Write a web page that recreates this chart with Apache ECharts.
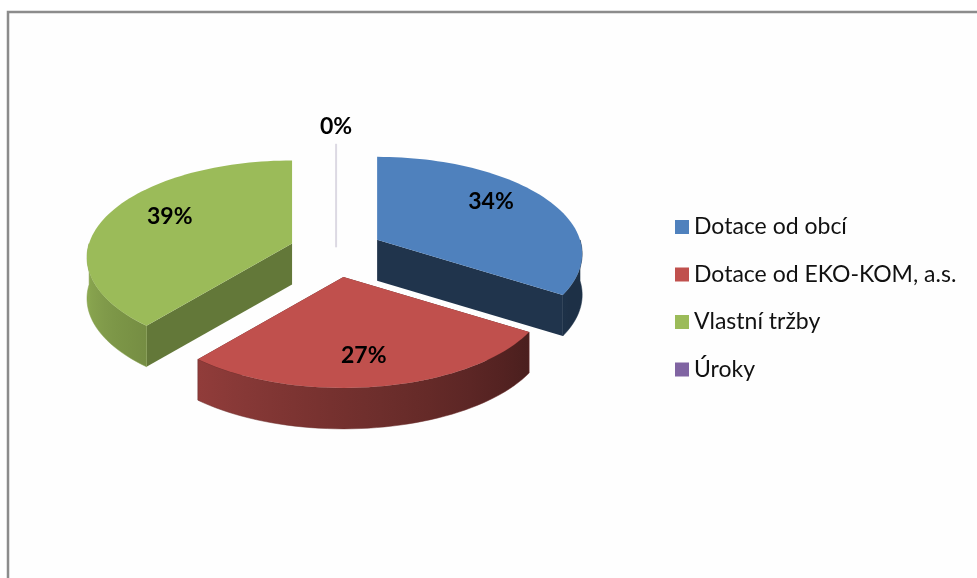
<!DOCTYPE html>
<html>
<head>
<meta charset="utf-8">
<script src="https://cdn.jsdelivr.net/npm/echarts@6/dist/echarts.min.js"></script>
<style>
  html, body { margin: 0; padding: 0; background: #fff; }
  #chart { width: 977px; height: 578px; }
</style>
</head>
<body>
<div id="chart"></div>
<script>
var categories = ['Dotace od obcí', 'Dotace od EKO-KOM, a.s.', 'Vlastní tržby', 'Úroky'];
var values = [34, 27, 39, 0];
var colors = ['#4f81bd', '#c0504d', '#9bbb59', '#8064a2'];
var cutShade = [0.40, 0.45, 0.64, 0.55];

(function() {
  var chart = echarts.init(document.getElementById('chart'), null, { renderer: 'canvas' });

  // --- 3D pie geometry (simple perspective camera) ---
  var SIN = 0.468, COS = 0.884;   // camera tilt
  var DIST = 6.13, FOC = 1244;    // camera distance / focal length
  var EXPLODE_X = 46.8, EXPLODE_Y = 25.2;  // slice pull-out on screen, px
  var THICK = 41;                 // wall height, px
  var LABEL_RX = 130, LABEL_RY = 80, OUT_RY = 100;
  var labelFont = 'bold 23px Lato, "Open Sans", sans-serif';

  var total = values.reduce(function(a, b) { return a + b; }, 0);
  var starts = [];
  var acc = 0;
  values.forEach(function(v) { starts.push(acc / total * 360); acc += v; });

  function rad(d) { return d * Math.PI / 180; }

  function shade(hex, f) {
    var n = parseInt(hex.slice(1), 16);
    var r = Math.min(255, Math.round(((n >> 16) & 255) * f));
    var g = Math.min(255, Math.round(((n >> 8) & 255) * f));
    var b = Math.min(255, Math.round((n & 255) * f));
    return 'rgb(' + r + ',' + g + ',' + b + ')';
  }

  // outer wall light: lighter on the left, darker on the right
  function wallLight(deg) {
    return Math.max(0.37, Math.min(0.9, 0.385 + (deg - 122.4) * 0.0038));
  }

  function drawSlice(i, value, api) {
    var cx = api.getWidth() * 0.344, cy = api.getHeight() * 0.436;
    var a0 = starts[i], a1 = a0 + value / total * 360;
    var mid = (a0 + a1) / 2;
    var sx = EXPLODE_X * Math.sin(rad(mid)), sy = -EXPLODE_Y * Math.cos(rad(mid));

    function proj(r, deg) {
      var X = r * Math.sin(rad(deg)), Z = r * Math.cos(rad(deg));
      var depth = Z * COS + DIST;
      return [cx + sx + FOC * X / depth, cy + sy - FOC * Z * SIN / depth];
    }
    function down(p) { return [p[0], p[1] + THICK]; }

    var children = [];
    var c = proj(0, 0);
    var pct = Math.round(value / total * 100);

    if (a1 - a0 < 0.01) {
      var rimTop = proj(1, a0);
      children.push({
        type: 'polyline',
        shape: { points: [rimTop, c, [c[0], c[1] + THICK / 2]] },
        style: { stroke: '#dcd9e3', lineWidth: 2, fill: null }
      });
    } else {
      // radial cut faces
      [a0, a1].forEach(function(a) {
        var p = proj(1, a);
        children.push({
          type: 'polygon',
          shape: { points: [c, p, down(p), down(c)] },
          style: { fill: shade(colors[i], cutShade[i]) }
        });
      });

      // outer wall on the front half
      var w0 = Math.max(a0, 90), w1 = Math.min(a1, 270);
      if (w1 > w0) {
        var topArc = [], botArc = [], stops = [];
        var steps = Math.max(2, Math.ceil((w1 - w0) / 2));
        for (var k = 0; k <= steps; k++) {
          var d = w0 + (w1 - w0) * k / steps;
          var p = proj(1, d);
          topArc.push(p);
          botArc.unshift(down(p));
        }
        var xs = topArc.map(function(p) { return p[0]; });
        var xmin = Math.min.apply(null, xs), xmax = Math.max.apply(null, xs);
        for (var s = 0; s <= 8; s++) {
          var dd = w0 + (w1 - w0) * s / 8;
          var px = proj(1, dd)[0];
          var off = xmax > xmin ? (px - xmin) / (xmax - xmin) : 0;
          stops.push({ offset: Math.max(0, Math.min(1, off)), color: shade(colors[i], wallLight(dd)) });
        }
        stops.sort(function(a, b) { return a.offset - b.offset; });
        var wc = shade(colors[i], wallLight((w0 + w1) / 2));
        children.push({
          type: 'polygon',
          shape: { points: topArc.concat(botArc) },
          style: {
            fill: { type: 'linear', x: xmin, y: 0, x2: xmax, y2: 0, global: true, colorStops: stops },
            stroke: wc, lineWidth: 0.5
          }
        });
      }

      // top face
      var face = [c];
      var n = Math.max(2, Math.ceil((a1 - a0) / 2));
      for (var j = 0; j <= n; j++) face.push(proj(1, a0 + (a1 - a0) * j / n));
      children.push({
        type: 'polygon',
        shape: { points: face },
        style: { fill: colors[i] }
      });
    }

    // data label
    var lx = c[0] + (value > 0 ? LABEL_RX : 0) * Math.sin(rad(mid));
    var ly = c[1] - (value > 0 ? LABEL_RY : OUT_RY) * Math.cos(rad(mid));
    children.push({
      type: 'text',
      x: lx,
      y: ly,
      z2: 50,
      style: {
        text: pct + '%', fill: '#000', font: labelFont,
        align: 'center', verticalAlign: 'middle',
        textAlign: 'center', textVerticalAlign: 'middle'
      }
    });

    return { type: 'group', children: children };
  }

  // paint far slices first
  var order = categories.map(function(_, i) {
    var mid = starts[i] + values[i] / total * 180;
    return { i: i, depth: Math.cos(rad(mid)) };
  }).sort(function(a, b) { return b.depth - a.depth; });
  var zOf = [];
  order.forEach(function(o, k) { zOf[o.i] = 2 + k; });

  var series = categories.map(function(name, i) {
    return {
      type: 'custom',
      name: name,
      coordinateSystem: 'none',
      z: zOf[i],
      itemStyle: { color: colors[i] },
      data: [[values[i]]],
      renderItem: function(params, api) { return drawSlice(i, api.value(0), api); }
    };
  });

  chart.setOption({
    animation: false,
    backgroundColor: '#ffffff',
    graphic: [{
      type: 'rect',
      z: -10,
      silent: true,
      shape: { x: 8, y: 12, width: 1000, height: 600 },
      style: { fill: '#fefefe', stroke: '#8c8c8c', lineWidth: 2.5 }
    }],
    legend: {
      orient: 'vertical',
      left: 670,
      top: 210,
      icon: 'rect',
      itemWidth: 14,
      itemHeight: 14,
      itemGap: 23.5,
      data: categories,
      textStyle: {
        fontFamily: 'Lato, "Open Sans", sans-serif',
        fontSize: 23,
        lineHeight: 24,
        color: '#111'
      }
    },
    series: series
  });
})();
</script>
</body>
</html>
